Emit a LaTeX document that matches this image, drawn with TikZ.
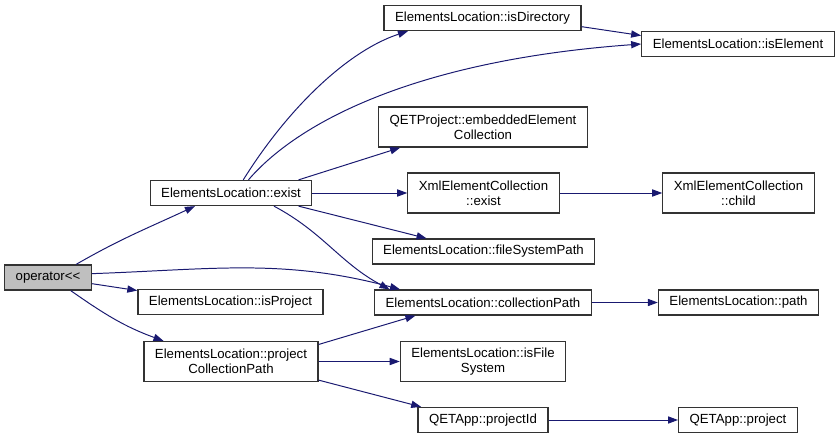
\documentclass[tikz,border=0pt]{standalone}
\usepackage{fontspec}
\setmainfont{Liberation Sans}
\usetikzlibrary{
    arrows.meta,
    positioning
}
\definecolor{edgeblue}{RGB}{25,25,112}

\begin{document}
\begin{tikzpicture}[
        x=0.025cm, y=0.025cm,
        every node/.style={font=\fontsize{9.4}{10.8}\selectfont},
        fn/.style={
            rectangle,
            draw=black!80,
            line width=0.9pt,
            fill=white,
            minimum height=0.625cm,
            inner xsep=0.275cm,
            inner ysep=2pt,
            align=center
        },
        fntwo/.style={fn,minimum height=1cm},
        root/.style={fn,fill=black!25},
        flow/.style={-{Triangle[length=2.5mm,width=1.8mm]},line width=0.7pt,draw=edgeblue}
    ]
        \useasboundingbox (0,0) rectangle (840,-439);

        \node[root] (op) at (48,-277.5) {operator<\kern0pt<};

        \node[fn] (ex) at (231,-193) {ElementsLocation::exist};
        \node[fn] (ip) at (230.5,-302) {ElementsLocation::isProject};
        \node[fntwo] (pcp) at (231,-361.5) {ElementsLocation::project\\CollectionPath};

        \node[fn] (idr) at (482.5,-18) {ElementsLocation::isDirectory};
        \node[fntwo] (eec) at (483,-127) {QETProject::embeddedElement\\Collection};
        \node[fntwo] (xex) at (483.5,-193) {XmlElementCollection\\::exist};
        \node[fn] (fsp) at (483.5,-251.5) {ElementsLocation::fileSystemPath};
        \node[fn] (cp) at (483,-302.5) {ElementsLocation::collectionPath};
        \node[fntwo] (ifs) at (483,-361.5) {ElementsLocation::isFile\\System};
        \node[fn] (pid) at (483,-420) {QETApp::projectId};

        \node[fn] (iel) at (738,-44) {ElementsLocation::isElement};
        \node[fntwo] (xch) at (738.5,-193) {XmlElementCollection\\::child};
        \node[fn] (pth) at (738.5,-302.5) {ElementsLocation::path};
        \node[fn] (prj) at (738,-420) {QETApp::project};

        \draw[flow] (op.25) to[out=30,in=205] (ex.200);
        \draw[flow] (op.5) to[out=2,in=165] (cp.171);
        \draw[flow] (op.-8) -- (ip.173);
        \draw[flow] (op.-30) to[out=-35,in=160] (pcp.163);

        \draw[flow] (ex.47) .. controls (290,-105) and (350,-50) .. (idr.190);
        \draw[flow] (ex.37) .. controls (300,-120) and (420,-60) .. (iel.180);
        \draw[flow] (ex.11.5) -- (eec.194);
        \draw[flow] (ex) -- (xex);
        \draw[flow] (ex.-11.5) -- (fsp.167);
        \draw[flow] (ex.-17) to[out=-28,in=152] (cp.172);

        \draw[flow] (idr.-5.7) -- (iel.175);
        \draw[flow] (xex) -- (xch);
        \draw[flow] (cp) -- (pth);

        \draw[flow] (pcp.11) -- (cp.191);
        \draw[flow] (pcp) -- (ifs);
        \draw[flow] (pcp.-12) -- (pid.168);
        \draw[flow] (pid) -- (prj);
    \end{tikzpicture}
\end{document}
